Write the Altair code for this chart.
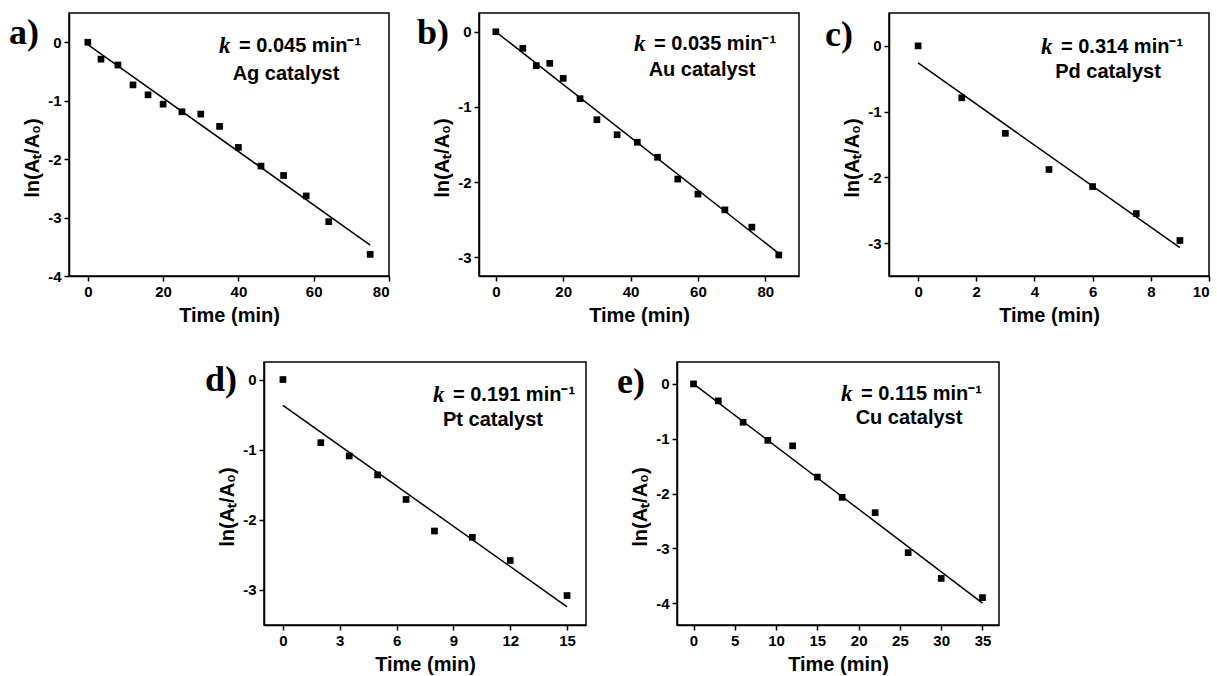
import altair as alt
import pandas as pd

# ---------------- data ----------------
ag_t = [0, 3.5, 8, 12, 16, 20, 25, 30, 35, 40, 46, 52, 58, 64, 75]
ag_v = [0, -0.29, -0.39, -0.73, -0.90, -1.06, -1.19, -1.23, -1.44, -1.80, -2.12, -2.28, -2.63, -3.07, -3.63]
ag_fit_t = [0, 75]
ag_fit_v = [-0.04, -3.47]

au_t = [0, 8, 12, 16, 20, 25, 30, 36, 42, 48, 54, 60, 68, 76, 84]
au_v = [0, -0.22, -0.45, -0.42, -0.62, -0.89, -1.17, -1.37, -1.47, -1.67, -1.96, -2.16, -2.37, -2.60, -2.97]
au_fit_t = [0, 84]
au_fit_v = [0.0, -2.95]

pd_t = [0, 1.5, 3, 4.5, 6, 7.5, 9]
pd_v = [0, -0.79, -1.33, -1.88, -2.14, -2.55, -2.96]
pd_fit_t = [0, 9]
pd_fit_v = [-0.26, -3.07]

pt_t = [0, 2, 3.5, 5, 6.5, 8, 10, 12, 15]
pt_v = [0, -0.90, -1.09, -1.36, -1.71, -2.16, -2.25, -2.58, -3.08]
pt_fit_t = [0, 15]
pt_fit_v = [-0.37, -3.24]

cu_t = [0, 3, 6, 9, 12, 15, 18, 22, 26, 30, 35]
cu_v = [0, -0.31, -0.70, -1.03, -1.13, -1.70, -2.07, -2.35, -3.08, -3.55, -3.90]
cu_fit_t = [0, 35]
cu_fit_v = [0.0, -4.0]

letters = ["a)", "b)", "c)", "d)", "e)"]
k_values = ["= 0.045 min\u207b\u00b9", "= 0.035 min\u207b\u00b9", "= 0.314 min\u207b\u00b9",
            "= 0.191 min\u207b\u00b9", "= 0.115 min\u207b\u00b9"]
catalysts = ["Ag catalyst", "Au catalyst", "Pd catalyst", "Pt catalyst", "Cu catalyst"]

x_domains = [[-5, 80], [-5, 90], [-1, 10], [-1, 16], [-2, 37]]
y_domains = [[-4, 0.5], [-3.25, 0.25], [-3.5, 0.5], [-3.5, 0.25], [-4.4, 0.4]]
x_ticks = [[0, 20, 40, 60, 80], [0, 20, 40, 60, 80], [0, 2, 4, 6, 8, 10],
           [0, 3, 6, 9, 12, 15], [0, 5, 10, 15, 20, 25, 30, 35]]
y_ticks = [[-4, -3, -2, -1, 0], [-3, -2, -1, 0], [-3, -2, -1, 0],
           [-3, -2, -1, 0], [-4, -3, -2, -1, 0]]

# annotation placement (pixels inside each panel): letter, k-line, catalyst line
letter_pos = [(-60, 20), (-62, 20), (-64, 22), (-59, 18), (-60, 20)]
k_pos = [(150, 33), (155, 31), (152, 34), (169, 33), (164, 32)]
cat_pos = [(217, 61), (223, 57), (219, 59), (229, 58), (232, 56)]

SANS = "Liberation Sans"
SERIF = "Liberation Serif"


def panel(i, t, v, ft, fv, w, h):
    pts = pd.DataFrame({"t": t, "v": v})
    fit = pd.DataFrame({"t": ft, "v": fv})
    xs = alt.Scale(domain=x_domains[i], nice=False, zero=False)
    ys = alt.Scale(domain=y_domains[i], nice=False, zero=False)
    xax = alt.Axis(values=x_ticks[i], title="Time (min)", grid=False,
                   labelExpr="datum.value + ''")
    yax = alt.Axis(values=y_ticks[i], title="ln(A\u209c/A\u2080)", grid=False,
                   labelExpr="datum.value + ''", titleY=h / 2 + 13)

    points = alt.Chart(pts).mark_square(size=45, color="black", opacity=1).encode(
        x=alt.X("t:Q", scale=xs, axis=xax),
        y=alt.Y("v:Q", scale=ys, axis=yax),
    )
    line = alt.Chart(fit).mark_line(color="black", strokeWidth=1.5).encode(
        x="t:Q", y="v:Q"
    )
    one = pd.DataFrame({"a": [0]})
    lx, ly = letter_pos[i]
    letter = alt.Chart(one).mark_text(
        text=letters[i], font=SERIF, fontWeight="bold", fontSize=36,
        align="left", baseline="middle", color="black"
    ).encode(x=alt.value(lx), y=alt.value(ly))
    kx, ky = k_pos[i]
    k_mark = alt.Chart(one).mark_text(
        text="k", font=SERIF, fontWeight="bold", fontStyle="italic", fontSize=23,
        align="left", baseline="middle", color="black"
    ).encode(x=alt.value(kx), y=alt.value(ky))
    k_rest = alt.Chart(one).mark_text(
        text=k_values[i], font=SANS, fontWeight="bold", fontSize=20,
        align="left", baseline="middle", color="black"
    ).encode(x=alt.value(kx + 20), y=alt.value(ky))
    cx, cy = cat_pos[i]
    cat = alt.Chart(one).mark_text(
        text=catalysts[i], font=SANS, fontWeight="bold", fontSize=20,
        align="center", baseline="middle", color="black"
    ).encode(x=alt.value(cx), y=alt.value(cy))
    return alt.layer(line, points, letter, k_mark, k_rest, cat).properties(width=w, height=h)


pa = panel(0, ag_t, ag_v, ag_fit_t, ag_fit_v, 320, 263)
pb = panel(1, au_t, au_v, au_fit_t, au_fit_v, 320, 263)
pc = panel(2, pd_t, pd_v, pd_fit_t, pd_fit_v, 320, 263)
pd_ = panel(3, pt_t, pt_v, pt_fit_t, pt_fit_v, 322, 263)
pe = panel(4, cu_t, cu_v, cu_fit_t, cu_fit_v, 322, 263)

spacer = alt.Chart(pd.DataFrame({"a": [0]})).mark_point(opacity=0).encode(
    x=alt.value(20), y=alt.value(20)
).properties(width=104, height=263, view=alt.ViewBackground(stroke="white", strokeWidth=0))

top = alt.hconcat(pa, pb, pc, spacing=90, bounds="flush")
bottom = alt.hconcat(spacer, pd_, pe, spacing=91, bounds="flush")

chart = alt.vconcat(top, bottom, spacing=35).properties(
    padding={"left": 8, "top": 12, "right": 0, "bottom": 0},
    background="white",
).configure_view(
    stroke="black", strokeWidth=1.5
).configure_axis(
    labelFont=SANS, labelFontWeight="bold", labelFontSize=15, labelColor="black",
    labelPadding=3,
    titleFont=SANS, titleFontWeight="bold", titleFontSize=20, titleColor="black",
    domainColor="black", domainWidth=1.5, tickColor="black", tickWidth=1.5, tickSize=5,
    grid=False,
).configure_axisX(titlePadding=6).configure_axisY(titlePadding=5)

chart.save("out.html", embed_options={"renderer": "svg", "actions": False})
